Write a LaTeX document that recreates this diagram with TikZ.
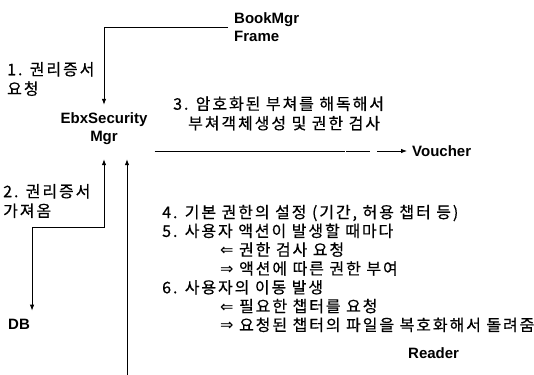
\documentclass[tikz,border=0pt]{standalone}
\usepackage{fontspec}
\setmainfont{Liberation Sans}
\newfontfamily\kr[LetterSpace=12,FakeBold=0.5]{Noto Sans CJK KR}
\newfontfamily\symf{DejaVu Sans}
\usetikzlibrary{arrows.meta,calc}
\newcommand\larr{{\symf\fontsize{16}{18}\selectfont ⇐}}
\newcommand\rarr{{\symf\fontsize{16}{18}\selectfont ⇒}}
\tikzset{
  lbl/.style={font=\fontsize{15}{18}\selectfont\bfseries, inner sep=0pt, align=center},
  kt/.style={font=\kr\fontsize{16}{19.5}\selectfont, inner sep=0pt, anchor=west, align=left},
  conn/.style={line width=0.8pt, -{Latex[length=6pt,width=4.5pt]}},
}
\begin{document}
\begin{tikzpicture}[x=1pt,y=-1pt]
\useasboundingbox (0,0) rectangle (534,374);
% main nodes
\node[lbl, anchor=west, align=left] (bookmgr) at (234,27) {BookMgr\\Frame};
\node[lbl, inner ysep=8pt] (ebx) at (104,129) {EbxSecurity\\Mgr};
\node[lbl, anchor=west] (voucher) at (412,151) {Voucher};
\node[lbl, anchor=west] (db) at (8,324) {DB};
\node[lbl, anchor=west] (reader) at (408,353) {Reader};
\coordinate (dbturn) at (104,227);
\coordinate (rbot) at (127,376);
% texts
\node[kt] (t1) at (7,79) {1. 권리증서\\요청};
\node[kt] (t2) at (3,201) {2. 권리증서\\가져옴};
\node[kt] (t3) at (173,113.5) {3. 암호화된 부쳐를 해독해서\\\hspace*{15pt}부쳐객체생성 및 권한 검사};
\node[kt, font=\kr\fontsize{16}{18.8}\selectfont] (t4) at (162,268.5) {4. 기본 권한의 설정 (기간, 허용 챕터 등)\\
5. 사용자 액션이 발생할 때마다\\
\hspace*{58pt}\larr{} 권한 검사 요청\\
\hspace*{58pt}\rarr{} 액션에 따른 권한 부여\\
6. 사용자의 이동 발생\\
\hspace*{58pt}\larr{} 필요한 챕터를 요청\\
\hspace*{58pt}\rarr{} 요청된 챕터의 파일을 복호화해서 돌려줌};
% connectors
\draw[conn, shorten <=6pt] (bookmgr.west) -| (ebx.north);
\draw[conn, shorten <=7pt, shorten >=5pt, dash pattern=on 190pt off 1.5pt on 24pt off 7pt on 40pt] (ebx.east |- voucher.west) -- (voucher.west);
\draw[line width=0.8pt, {Latex[length=6pt,width=4.5pt]}-{Latex[length=6pt,width=4.5pt]}, shorten <=6pt] (ebx.south) -- (dbturn) -| ($(db.north east)+(2,-8)$);
\draw[conn, shorten >=6pt] (rbot) -- (rbot |- ebx.south);
\end{tikzpicture}
\end{document}
